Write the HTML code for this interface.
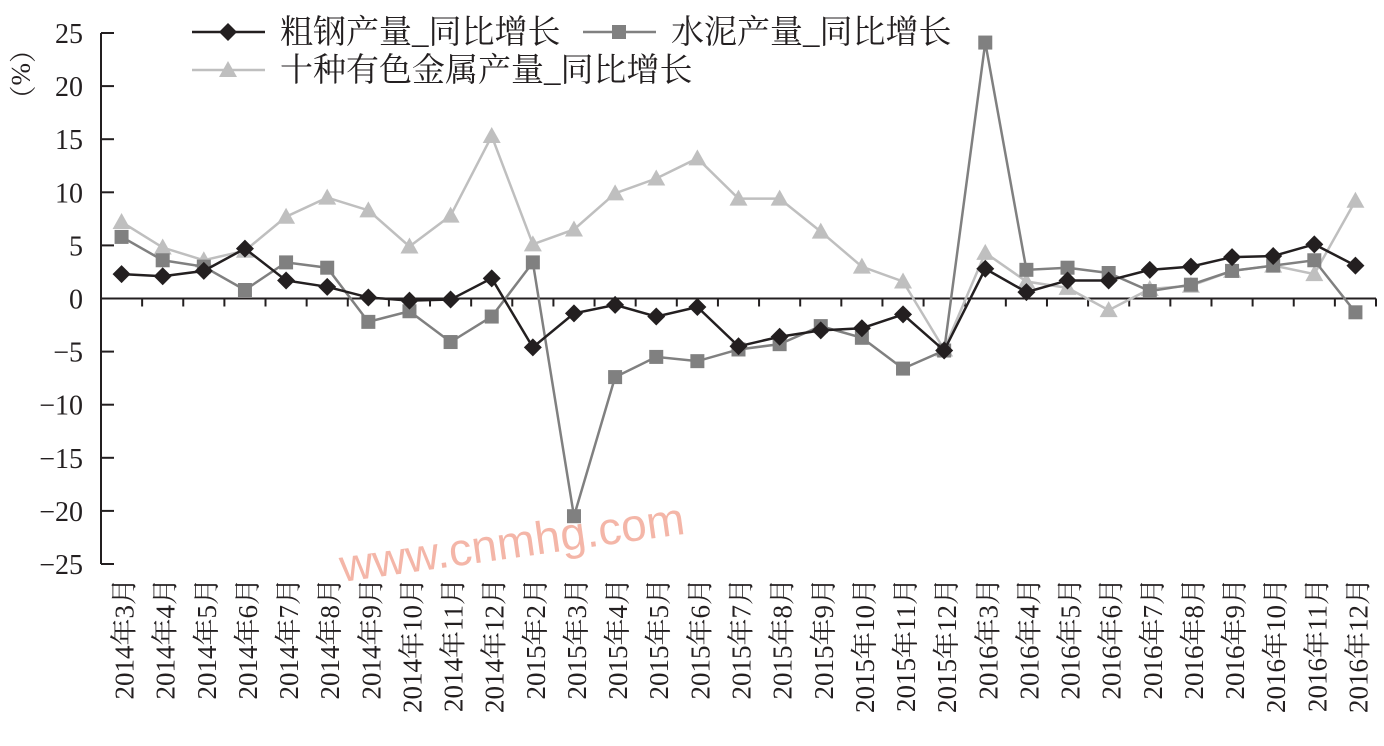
<!DOCTYPE html>
<html><head><meta charset="utf-8"><style>
html,body{margin:0;padding:0;background:#fff;}
svg{display:block;}
text{font-family:"Liberation Serif","Noto Serif CJK SC",serif;}
</style></head><body>
<svg id="chart" width="1384" height="746" xmlns="http://www.w3.org/2000/svg"></svg>
<script>
const categories=["2014年3月","2014年4月","2014年5月","2014年6月","2014年7月","2014年8月","2014年9月","2014年10月","2014年11月","2014年12月","2015年2月","2015年3月","2015年4月","2015年5月","2015年6月","2015年7月","2015年8月","2015年9月","2015年10月","2015年11月","2015年12月","2016年3月","2016年4月","2016年5月","2016年6月","2016年7月","2016年8月","2016年9月","2016年10月","2016年11月","2016年12月"];
const steel=[2.3,2.1,2.6,4.7,1.7,1.1,0.1,-0.2,-0.1,1.9,-4.6,-1.4,-0.6,-1.7,-0.8,-4.5,-3.6,-3.0,-2.8,-1.5,-4.9,2.8,0.6,1.7,1.7,2.7,3.0,3.9,4.0,5.1,3.1];
const cement=[5.8,3.6,3.0,0.8,3.4,2.9,-2.2,-1.2,-4.1,-1.7,3.4,-20.5,-7.4,-5.5,-5.9,-4.8,-4.3,-2.6,-3.7,-6.6,-4.9,24.1,2.7,2.9,2.4,0.7,1.3,2.6,3.1,3.6,-1.3];
const metals=[7.2,4.8,3.6,4.5,7.7,9.5,8.3,4.9,7.8,15.3,5.1,6.5,9.9,11.3,13.2,9.4,9.4,6.3,3.0,1.6,-4.8,4.3,1.6,1.0,-1.1,0.9,1.2,2.6,3.1,2.3,9.2];
const yTicks=[25,20,15,10,5,0,-5,-10,-15,-20,-25];

const svg=document.getElementById('chart');
const NS='http://www.w3.org/2000/svg';
const L=101,R=1376,T=33,B=564;
const band=(R-L)/categories.length;
function x(i){return L+band*(i+0.5);}
function y(v){return T+(25-v)*(B-T)/50;}
function mk(tag,attrs,parent){const e=document.createElementNS(NS,tag);for(const k in attrs)e.setAttribute(k,attrs[k]);(parent||svg).appendChild(e);return e;}

// watermark
const wm=mk('text',{x:342,y:582,'font-size':46,fill:'#f4b6a8',transform:'rotate(-8 342 582)'});


wm.style.fontFamily='"Liberation Sans",sans-serif';
wm.textContent='www.cnmhg.com';

// y axis
const ya=mk('line',{x1:L,y1:T,x2:L,y2:B,stroke:'#231f20','stroke-width':2});


yTicks.forEach(v=>{
  const t=mk('line',{x1:L,y1:y(v),x2:L+13,y2:y(v),stroke:'#231f20','stroke-width':2});
  
  
  const lb=mk('text',{x:L-18,y:y(v)+10,'font-size':28,'text-anchor':'end',fill:'#231f20'});
  
  
  lb.textContent=String(v).replace('-','−');
});
const yt=mk('text',{x:12,y:36,'font-size':27,fill:'#231f20',transform:'rotate(90 12 36)'});


yt.textContent='（%）';

// x axis
const xa=mk('line',{x1:L,y1:y(0),x2:R,y2:y(0),stroke:'#231f20','stroke-width':2});


categories.forEach((c,i)=>{
  const t=mk('line',{x1:L+band*(i+1),y1:y(0),x2:L+band*(i+1),y2:y(0)+8,stroke:'#231f20','stroke-width':2});
  
  
  const xx=x(i)+12,yy=578;
  const lb=mk('text',{x:xx,y:yy,'font-size':27,'text-anchor':'end',fill:'#231f20',transform:`rotate(-90 ${xx} ${yy})`});
  
  
  lb.textContent=c;
});

function marker(type,cx,cy,color,g){
  let e;
  if(type==='diamond')e=mk('polygon',{points:`${cx},${cy-9} ${cx+9},${cy} ${cx},${cy+9} ${cx-9},${cy}`,fill:color},g);
  else if(type==='square')e=mk('rect',{x:cx-7,y:cy-7,width:14,height:14,fill:color},g);
  else e=mk('polygon',{points:`${cx},${cy-9} ${cx+9},${cy+7} ${cx-9},${cy+7}`,fill:color},g);
  return e;
}
function series(data,color,type,name){
  const g=mk('g',{});
  
  
  const p=mk('polyline',{points:data.map((v,i)=>x(i)+','+y(v)).join(' '),fill:'none',stroke:color,'stroke-width':2.5},g);
  
  
  data.forEach((v,i)=>{
    const m=marker(type,x(i),y(v),color,g);
    
    
  });
}
series(metals,'#bfbfbf','triangle','metals');
series(cement,'#808080','square','cement');
series(steel,'#231f20','diamond','steel');

// legend
function legend(x0,yy,color,type,label,name){
  const g=mk('g',{});
  
  
  mk('line',{x1:x0,y1:yy,x2:x0+73,y2:yy,stroke:color,'stroke-width':2.5},g);
  marker(type,x0+36,yy,color,g);
  const t=mk('text',{x:x0+88,y:yy+11,'font-size':33,fill:'#231f20'},g);
  t.textContent=label;
}
legend(192,32,'#231f20','diamond','粗钢产量_同比增长','steel');
legend(583,32,'#808080','square','水泥产量_同比增长','cement');
legend(192,70,'#bfbfbf','triangle','十种有色金属产量_同比增长','metals');
</script>
</body></html>
